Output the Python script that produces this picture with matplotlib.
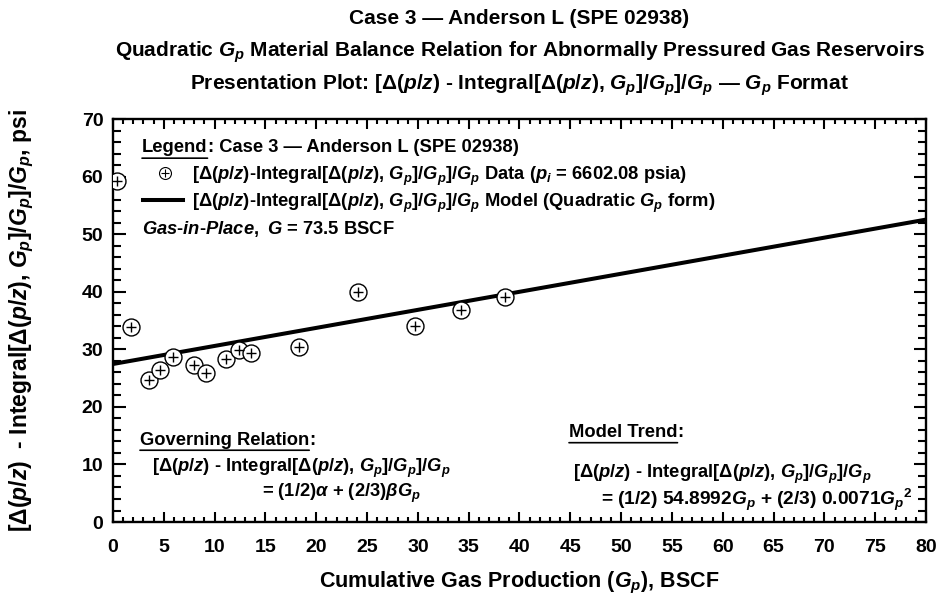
import numpy as np
import matplotlib.pyplot as plt
from matplotlib.ticker import MultipleLocator

plt.rcParams['font.family'] = ['Liberation Sans', 'DejaVu Sans']
plt.rcParams['font.weight'] = 'bold'
plt.rcParams['axes.labelweight'] = 'bold'
plt.rcParams['mathtext.fontset'] = 'custom'
plt.rcParams['mathtext.rm'] = 'Liberation Sans:bold'
plt.rcParams['mathtext.it'] = 'Liberation Sans:bold:italic'
plt.rcParams['mathtext.bf'] = 'Liberation Sans:bold'

# Case 3 data: cumulative production (BSCF) and MB function (psi)
gp = [0.4, 1.8, 3.5, 4.6, 5.9, 8.0, 9.2, 11.1, 12.4, 13.6, 18.3, 24.1, 29.7, 34.2, 38.6]
mb_func = [59.2, 33.9, 24.6, 26.4, 28.7, 27.2, 25.8, 28.3, 29.8, 29.4, 30.4, 39.9, 34.1, 36.9, 39.0]

# model line parameters
alpha = 54.8992
slope = 0.3135
x_model = [0.0, 80.0]

p_i = 6602.08
g_ip = 73.5

EXPR = r'[Δ($p/z$) - Integral[Δ($p/z$), $G_p$]/$G_p$]/$G_p$'
EXPR_TIGHT = r'[Δ($p/z$)-Integral[Δ($p/z$), $G_p$]/$G_p$]/$G_p$'

fig = plt.figure(figsize=(9.4, 5.99), dpi=100)
ax = fig.add_axes([0.1202, 0.1285, 0.8649, 0.6728])

y_model = [0.5 * alpha + slope * x for x in x_model]
ax.plot(x_model, y_model, color='black', lw=2.9, zorder=2)
ax.plot(gp, mb_func, ls='none', marker='o', ms=12.2, mfc='white', mec='black', mew=1.0, zorder=3)
ax.plot(gp, mb_func, ls='none', marker='+', ms=7.5, mec='black', mew=1.0, zorder=4)

ax.set_xlim(0, 80)
ax.set_ylim(0, 70)
ax.xaxis.set_major_locator(MultipleLocator(5))
ax.xaxis.set_minor_locator(MultipleLocator(1))
ax.yaxis.set_major_locator(MultipleLocator(10))
ax.yaxis.set_minor_locator(MultipleLocator(2))
ax.tick_params(which='both', direction='in', top=True, right=True, width=1.5)
ax.tick_params(axis='x', which='major', length=7.2, labelsize=14, pad=12)
ax.tick_params(axis='x', which='minor', length=3.6)
ax.tick_params(axis='y', which='major', length=9, labelsize=14, pad=7)
ax.tick_params(axis='y', which='minor', length=5.6)
for s in ax.spines.values():
    s.set_linewidth(1.7)
for lab in ax.get_xticklabels() + ax.get_yticklabels():
    lab.set_fontweight('bold')

ax.set_xlabel(r'Cumulative Gas Production ($G_p$), BSCF', fontsize=15.5, va='center')
ax.xaxis.set_label_coords(0.5, -0.151)
ax.set_ylabel(r'[Δ($p/z$)  - Integral[Δ($p/z$), $G_p$]/$G_p$]/$G_p$, psi', fontsize=16.5, va='center')
ax.yaxis.set_label_coords(-0.112, 0.5)

# title lines, centred over the axes
tx = 0.5527
fig.text(tx, 0.9683, 'Case 3 — Anderson L (SPE 02938)', ha='center', va='center', fontsize=15)
fig.text(tx, 0.9132, r'Quadratic $G_p$ Material Balance Relation for Abnormally Pressured Gas Reservoirs',
         ha='center', va='center', fontsize=15)
fig.text(tx, 0.8581, 'Presentation Plot: ' + EXPR + r' — $G_p$ Format', ha='center', va='center', fontsize=15)


def underlined(x, y, head, tail, size):
    t = ax.text(x, y, head, transform=ax.transAxes, fontsize=size, ha='left', va='baseline')
    ax.annotate('', xy=(0, -0.1), xytext=(1, -0.1), xycoords=t, textcoords=t,
                arrowprops=dict(arrowstyle='-', lw=1.2, color='black', shrinkA=0, shrinkB=0))
    ax.annotate(tail, xy=(1, 0), xycoords=t, fontsize=size, ha='left', va='bottom')
    return t


fs = 13.2
# legend block
underlined(0.0357, 0.9170, 'Legend', ': Case 3 — Anderson L (SPE 02938)', fs)
ax.plot([0.064], [0.8660], transform=ax.transAxes, marker='o', ms=8.6, mfc='white', mec='black', mew=0.8,
        clip_on=False)
ax.plot([0.064], [0.8660], transform=ax.transAxes, marker='+', ms=5.5, mec='black', mew=0.8, clip_on=False)
ax.text(0.0972, 0.848, EXPR_TIGHT + r' Data ($p_i$ = %.2f psia)' % p_i, transform=ax.transAxes,
        fontsize=fs, ha='left', va='baseline')
ax.plot([0.0369, 0.0861], [0.7990, 0.7990], transform=ax.transAxes, color='black', lw=2.9)
ax.text(0.0972, 0.781, EXPR_TIGHT + r' Model (Quadratic $G_p$ form)', transform=ax.transAxes,
        fontsize=fs, ha='left', va='baseline')
ax.text(0.0357, 0.7150, r'$Gas$-$in$-$Place,\ G$ = %.1f BSCF' % g_ip, transform=ax.transAxes,
        fontsize=fs, ha='left', va='baseline')

# governing relation block
underlined(0.0332, 0.1923, 'Governing Relation', ':', fs)
ax.text(0.0476, 0.1253, EXPR, transform=ax.transAxes, fontsize=fs, ha='left', va='baseline')
ax.text(0.183, 0.0620, r'= (1/2)$\alpha$ + (2/3)$\beta G_p$', transform=ax.transAxes, fontsize=fs,
        ha='left', va='baseline')

# model trend block
underlined(0.5609, 0.2110, 'Model Trend', ':', fs)
ax.text(0.5658, 0.1090, EXPR, transform=ax.transAxes, fontsize=fs, ha='left', va='baseline')
ax.text(0.983, 0.0420, r'= (1/2) %.4f$G_p$ + (2/3) 0.0071$G_p$$^2$' % alpha, transform=ax.transAxes,
        fontsize=13.8, ha='right', va='baseline')

fig.savefig('out.png', dpi=100)
